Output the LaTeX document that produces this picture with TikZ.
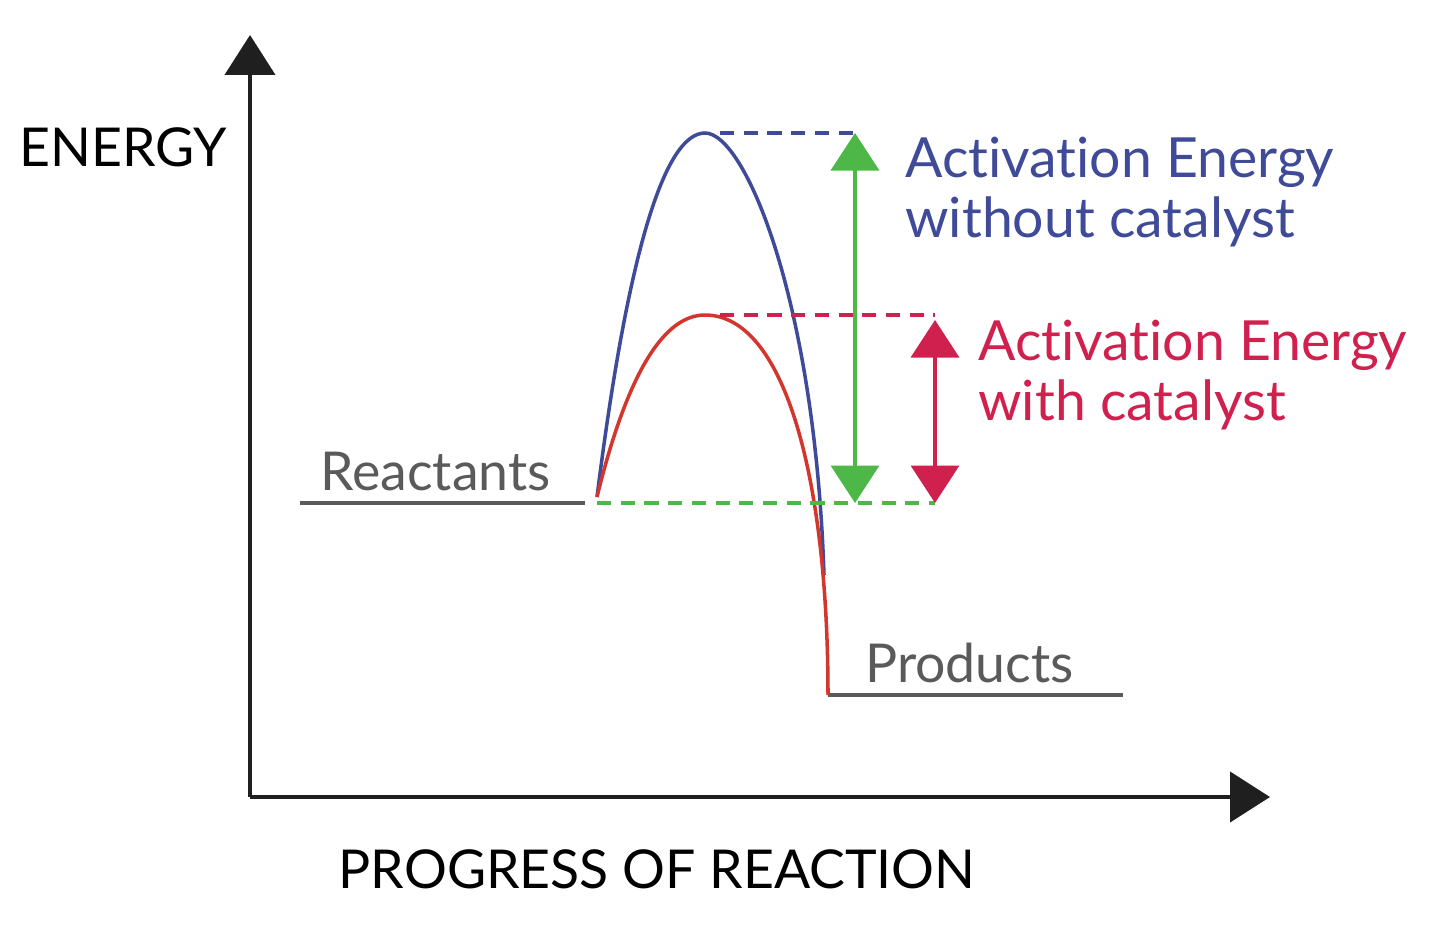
\documentclass[tikz,border=0pt]{standalone}
\usepackage{fontspec}
\setmainfont{Lato}[Ligatures=NoCommon]
\usepackage[HTML]{xcolor}
\usetikzlibrary{positioning, arrows.meta}

\definecolor{nocat}{HTML}{3F4A98}
\definecolor{withcat}{HTML}{D0204E}
\definecolor{redcurve}{HTML}{D2362C}
\definecolor{eagreen}{HTML}{4DB848}
\definecolor{levelgray}{HTML}{5A5A5A}

\begin{document}
\begin{tikzpicture}[x=0.02cm, y=-0.02cm,
  axis/.style={line width=2.5pt, black!88, -{Triangle[width=1cm,length=0.8cm]}},
  level/.style={line width=2pt, levelgray},
  guide/.style={line width=1.8pt, dash pattern=on 8pt off 5.5pt},
  curve/.style={line width=2pt},
  gap/.style={line width=2pt, {Triangle[width=0.96cm,length=0.75cm]}-{Triangle[width=0.96cm,length=0.75cm]}},
  lbl/.style={font=\fontsize{30.5}{34}\selectfont, inner sep=0pt},
  ealbl/.style={font=\fontsize{31.5}{34}\selectfont, inner sep=0pt, align=left, anchor=base west}]
\useasboundingbox[fill=white] (0,0) rectangle (1440,944);

% axes
\coordinate (origin) at (250,797);
\coordinate (ytip) at (250,35);
\coordinate (xtip) at (1270,797);
\draw[axis] (origin) -- (ytip);
\draw[axis] (origin) -- (xtip);
\node[lbl, anchor=base west] (energy) at (19,166) {ENERGY};
\node[lbl, anchor=base] (progress) at (657,888) {PROGRESS OF REACTION};

% energy levels
\coordinate (reacL) at (300,503);
\coordinate (reacR) at (585,503);
\coordinate (prodL) at (828,695);
\coordinate (prodR) at (1123,695);
\draw[level] (reacL) -- (reacR);
\draw[level] (prodL) -- (prodR);
\node[lbl, levelgray, anchor=base west] (reactants) at (320,490) {Reactants};
\node[lbl, levelgray, anchor=base west] (products) at (865,682) {Products};

% reaction paths
\coordinate (start) at (597,497);
\coordinate (peakA) at (705,133);
\coordinate (peakB) at (705,315);
\draw[curve, nocat] (start) .. controls (628,250) and (665,133) .. (peakA)
  .. controls (745,133) and (815,300) .. (824,575);
\draw[curve, redcurve] (start) .. controls (628,370) and (665,315) .. (peakB)
  .. controls (785,315) and (828,480) .. (prodL);

% dashed guides
\coordinate (dashA) at (855,133);
\coordinate (dashB) at (935,315);
\coordinate (dashC) at (935,503);
\draw[guide, nocat] (720,133) -- (dashA);
\draw[guide, withcat] (720,315) -- (dashB);
\draw[guide, eagreen] (start |- dashC) -- (dashC);

% activation energy arrows
\coordinate (gtop) at (855,133);
\coordinate (gbot) at (855,503);
\coordinate (rtop) at (935,320);
\coordinate (rbot) at (935,503);
\draw[gap, eagreen] (gtop) -- (gbot);
\draw[gap, withcat] (rtop) -- (rbot);

\node[ealbl, nocat] (eanocat) at (905,237) {Activation Energy\\without catalyst};
\node[ealbl, withcat] (eacat) at (978,420) {Activation Energy\\with catalyst};
\end{tikzpicture}
\end{document}
